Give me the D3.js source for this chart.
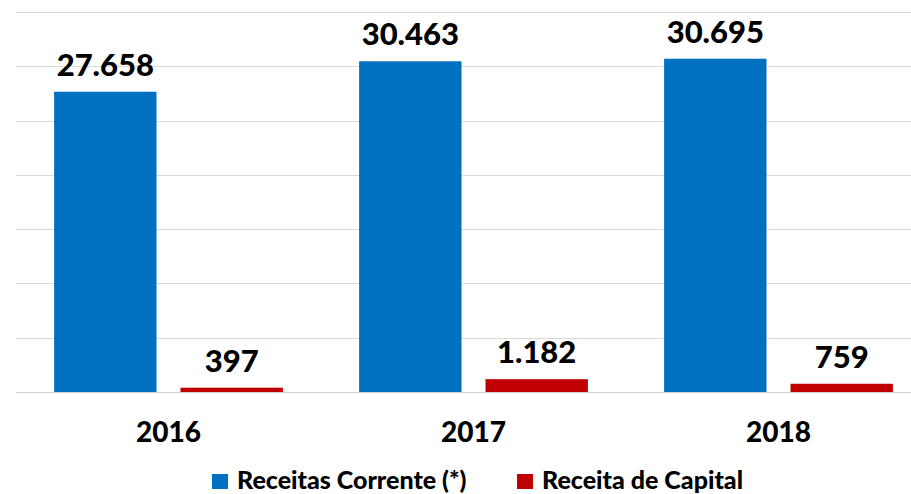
<!DOCTYPE html>
<html><head><meta charset="utf-8">
<script src="https://cdn.jsdelivr.net/npm/d3@7"></script>
<style>body{margin:0;background:#fff}svg{display:block}text{font-family:Lato,"Open Sans",sans-serif;font-weight:bold;fill:#000}</style>
</head><body>
<script>
const categories = ["2016","2017","2018"];
const seriesNames = ["Receitas Corrente (*)","Receita de Capital"];
const receitasCorrente = [27658,30463,30695];
const receitaCapital = [397,1182,759];
const labelsCorrente = ["27.658","30.463","30.695"];
const labelsCapital = ["397","1.182","759"];
const yTicks = [0,5000,10000,15000,20000,25000,30000,35000];
const colors = ["#0070C0","#C00000"];

const W=911,H=494;
const svg=d3.select("body").append("svg").attr("width",W).attr("height",H);
const y=d3.scaleLinear().domain([0,35000]).range([392,12]);
const x0=d3.scaleBand().domain(categories).range([16,931]).paddingInner(0.25).paddingOuter(0.125);
const x1=d3.scaleBand().domain([0,1]).range([0,x0.bandwidth()]).paddingInner(0.19);

svg.append("g").selectAll("line").data(yTicks).join("line")
 .attr("x1",16).attr("x2",W).attr("y1",d=>Math.round(y(d))+0.5).attr("y2",d=>Math.round(y(d))+0.5)
 .attr("stroke",(d)=>d===0?"#D0D0D0":"#D9D9D9").attr("stroke-width",1);

const series=[receitasCorrente,receitaCapital];
const labels=[labelsCorrente,labelsCapital];
series.forEach((vals,si)=>{
  const g=svg.append("g");
  g.selectAll("rect").data(vals).join("rect")
   .attr("x",(d,i)=>x0(categories[i])+x1(si)).attr("width",x1.bandwidth())
   .attr("y",d=>y(d)).attr("height",d=>y(0)-y(d)).attr("fill",colors[si]);
  g.selectAll("text").data(vals).join("text")
   .attr("x",(d,i)=>x0(categories[i])+x1(si)+x1.bandwidth()/2)
   .attr("y",d=>y(d)-16).attr("text-anchor","middle").style("font-size","31px").style("font-weight","900")
   .text((d,i)=>labels[si][i]);
});

svg.append("g").selectAll("text").data(categories).join("text")
 .attr("x",d=>x0(d)+x0.bandwidth()/2).attr("y",442).attr("text-anchor","middle")
 .style("font-size","28px").style("font-weight","900").text(d=>d);

const lg=svg.append("g");
const legX=[212,517];
seriesNames.forEach((n,i)=>{
  lg.append("rect").attr("x",legX[i]).attr("y",474).attr("width",16).attr("height",15).attr("fill",colors[i]);
  lg.append("text").attr("x",legX[i]+25).attr("y",489).style("font-size","25px").style("font-weight","900").text(n);
});
</script>
</body></html>
